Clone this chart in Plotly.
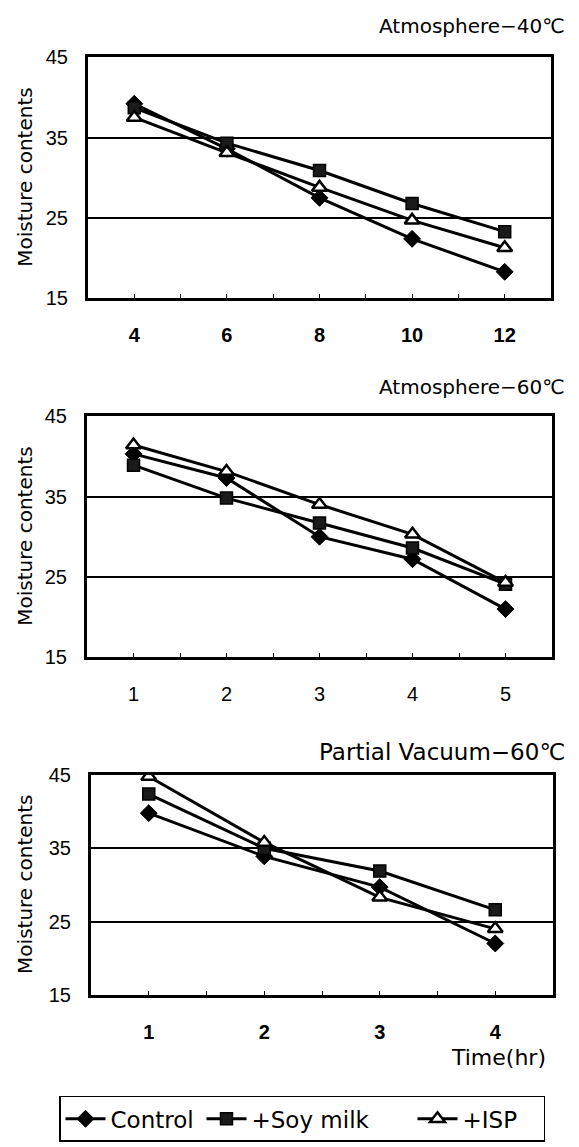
import plotly.graph_objects as go

# ---------------- data ----------------
series_names = ["Control", "+Soy milk", "+ISP"]
panel_titles = ["Atmosphere−40℃", "Atmosphere−60℃", "Partial Vacuum−60℃"]
y_title = "Moisture contents"
x_title = "Time(hr)"
y_ticks = [15, 25, 35, 45]

time_atm40 = [4, 6, 8, 10, 12]
control_atm40 = [39.2, 33.6, 27.5, 22.4, 18.3]
soy_atm40 = [38.7, 34.3, 30.9, 26.8, 23.3]
isp_atm40 = [37.5, 33.1, 28.8, 24.7, 21.3]

time_atm60 = [1, 2, 3, 4, 5]
control_atm60 = [40.3, 37.3, 30.0, 27.2, 21.0]
soy_atm60 = [38.9, 34.8, 31.7, 28.6, 24.1]
isp_atm60 = [41.4, 38.1, 34.0, 30.3, 24.3]

time_vac60 = [1, 2, 3, 4]
control_vac60 = [39.8, 33.9, 29.7, 22.0]
soy_vac60 = [42.4, 35.0, 31.9, 26.6]
isp_vac60 = [44.8, 35.8, 28.3, 24.0]

# ---------------- layout helpers ----------------
W, H = 579, 1147
FONT_NUM = "Liberation Sans, Arial, sans-serif"
FONT_TXT = "DejaVu Sans, Liberation Sans, sans-serif"

def fx(p):
    return p / W

def fy(p):
    return 1 - p / H

# (left, right, top, bottom) in pixels
boxes = [(88, 551, 47, 293), (87, 552, 413, 659), (91, 553, 779, 1003)]
title_y = [15, 383, 755]
title_size = [20, 20, 23]
bold_ticks = [True, False, True]
legend_text_widths = [86, 156, 76]

panels = [
    (time_atm40, [control_atm40, soy_atm40, isp_atm40]),
    (time_atm60, [control_atm60, soy_atm60, isp_atm60]),
    (time_vac60, [control_vac60, soy_vac60, isp_vac60]),
]

marker_styles = [
    dict(symbol="diamond", size=13, color="black", line=dict(color="black", width=1)),
    dict(symbol="square", size=12, color="#1a1a1a", line=dict(color="black", width=1.5)),
    dict(symbol="triangle-up", size=13, color="white", line=dict(color="black", width=2.5)),
]

fig = go.Figure()

for i, (xs, ys_list) in enumerate(panels):
    suffix = "" if i == 0 else str(i + 1)
    for j, ys in enumerate(ys_list):
        fig.add_trace(go.Scatter(
            x=xs, y=ys, mode="lines+markers",
            name=series_names[j],
            line=dict(color="black", width=3),
            marker=marker_styles[j],
            xaxis="x" + suffix, yaxis="y" + suffix,
            showlegend=(i == 0),
            legendrank=j,
            legendwidth=legend_text_widths[j],
        ))

layout = dict(
    width=W, height=H,
    margin=dict(l=0, r=0, t=0, b=0),
    paper_bgcolor="white", plot_bgcolor="white",
    showlegend=True,
    legend=dict(
        orientation="h",
        x=fx(59), xanchor="left",
        y=fy(1106), yanchor="top",
        bordercolor="black", borderwidth=1.5,
        bgcolor="white",
        font=dict(family=FONT_TXT, size=23, color="black"),
        itemwidth=40,
        traceorder="normal",
    ),
    annotations=[],
)

for i, (xs, ys_list) in enumerate(panels):
    l, r, t, b = boxes[i]
    key = "" if i == 0 else str(i + 1)
    step = xs[1] - xs[0]
    mids = [xs[0] - step / 2] + [(xs[k] + xs[k + 1]) / 2 for k in range(len(xs) - 1)] + [xs[-1] + step / 2]
    labels = [("<b>%s</b>" % v) if bold_ticks[i] else str(v) for v in xs]
    layout["xaxis" + key] = dict(
        domain=[fx(l), fx(r)],
        anchor="y" + key,
        range=[xs[0] - step / 2, xs[-1] + step / 2],
        tickvals=xs, ticktext=labels,
        ticks="inside", ticklen=4, tickwidth=1, tickcolor="black",
        minor=dict(tickvals=mids, ticks="inside", ticklen=4, tickwidth=1, tickcolor="black"),
        showgrid=False, zeroline=False,
        showline=True, linecolor="black", linewidth=3, mirror=True,
        tickfont=dict(family=FONT_NUM, size=20, color="black"),
        ticklabelstandoff=17,
        fixedrange=True,
    )
    layout["yaxis" + key] = dict(
        domain=[fy(b), fy(t)],
        anchor="x" + key,
        range=[y_ticks[0], y_ticks[-1]],
        tickvals=y_ticks,
        ticks="",
        showgrid=True, gridcolor="black", gridwidth=1.5,
        zeroline=False,
        showline=True, linecolor="black", linewidth=3, mirror=True,
        tickfont=dict(family=FONT_NUM, size=20, color="black"),
        ticklabelstandoff=13,
        fixedrange=True,
    )
    layout["annotations"].append(dict(
        text=panel_titles[i], xref="paper", yref="paper",
        x=fx(567), y=fy(title_y[i]), xanchor="right", yanchor="middle",
        showarrow=False,
        font=dict(family=FONT_TXT, size=title_size[i], color="black"),
    ))
    layout["annotations"].append(dict(
        text=y_title, xref="paper", yref="paper",
        x=fx(25), y=fy((t + b) / 2), xanchor="center", yanchor="middle",
        textangle=-90, showarrow=False,
        font=dict(family=FONT_TXT, size=20, color="black"),
    ))

layout["annotations"].append(dict(
    text=x_title, xref="paper", yref="paper",
    x=fx(548), y=fy(1067), xanchor="right", yanchor="middle",
    showarrow=False,
    font=dict(family=FONT_TXT, size=22, color="black"),
))

fig.update_layout(**layout)
fig.write_html(
    "out.html",
    config={"displayModeBar": False},
    post_script="document.body.style.margin='0px';document.body.style.overflow='hidden';",
)
